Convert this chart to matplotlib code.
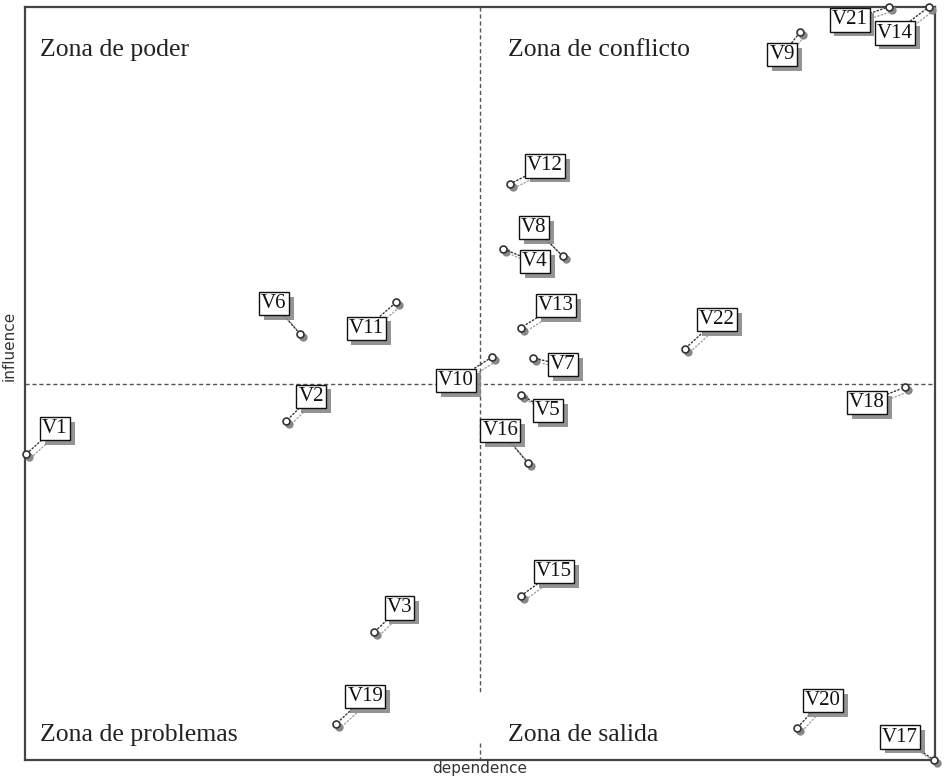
import matplotlib.pyplot as plt
import matplotlib.patheffects as pe
from matplotlib.transforms import offset_copy

# variables (MICMAC style map), axes 0..1
names = ['V1', 'V2', 'V3', 'V4', 'V5', 'V6', 'V7', 'V8', 'V9', 'V10', 'V11',
         'V12', 'V13', 'V14', 'V15', 'V16', 'V17', 'V18', 'V19', 'V20', 'V21', 'V22']
dependence = [0.001, 0.287, 0.384, 0.525, 0.545, 0.302, 0.558, 0.591, 0.852, 0.513, 0.408,
              0.533, 0.545, 0.993, 0.545, 0.553, 0.999, 0.967, 0.342, 0.848, 0.949, 0.725]
influence = [0.406, 0.450, 0.170, 0.679, 0.485, 0.566, 0.534, 0.669, 0.967, 0.535, 0.608,
             0.765, 0.574, 1.000, 0.218, 0.394, 0.000, 0.495, 0.048, 0.042, 1.000, 0.546]

zones = ['Zona de poder', 'Zona de conflicto', 'Zona de problemas', 'Zona de salida']

# label box offsets from the point (pixels, y up)
label_offsets = [(29, 26), (25, 25), (25, 24), (32, -13), (27, -16), (-26, 30), (30, -7),
                 (-29, 29), (-18, -23), (-36, -23), (-30, -26), (35, 18), (35, 22),
                 (-34, -26), (33, 24), (-28, 33), (-34, 23), (-38, -15), (29, 27),
                 (26, 28), (-39, -13), (32, 29)]

fig = plt.figure(figsize=(9.44, 7.83), dpi=100)
ax = fig.add_axes([25 / 944, 23 / 783, 910 / 944, 753 / 783])
ax.set_xlim(0, 1)
ax.set_ylim(0, 1)
ax.set_xticks([])
ax.set_yticks([])
for s in ax.spines.values():
    s.set_color('#444444')
    s.set_linewidth(1.6)

# quadrant lines
ax.axhline(0.5, color='#555555', lw=1, ls=(0, (3, 2)), zorder=1)
ax.plot([0.5, 0.5], [1, 0.089], color='#555555', lw=1, ls=(0, (3, 2)), zorder=1)
ax.plot([0.5, 0.5], [0.023, 0], color='#555555', lw=1, ls=(0, (3, 2)), zorder=1)

serif = 'Liberation Serif'
zone_pos = [(0.0165, 0.943), (0.531, 0.943), (0.0165, 0.033), (0.531, 0.033)]
for z, (zx, zy) in zip(zones, zone_pos):
    ax.text(zx, zy, z, transform=ax.transAxes, family=serif, fontsize=18.5,
            color='#222222', va='center', ha='left')

shadow = offset_copy(ax.transData, fig=fig, x=3, y=-3, units='dots')
shade = [pe.SimplePatchShadow(offset=(3.5, -3.5), shadow_rgbFace='#888888', alpha=0.9), pe.Normal()]
line_shade = [pe.SimpleLineShadow(offset=(3, -3), shadow_color='#999999', alpha=0.9), pe.Normal()]

for i, name in enumerate(names):
    x, y = dependence[i], influence[i]
    dx, dy = label_offsets[i]
    ax.plot(x, y, 'o', ms=5, mfc='#888888', mec='#888888', transform=shadow,
            zorder=3, clip_on=False)
    ann = ax.annotate(name, (x, y), xytext=(dx, dy), textcoords='offset pixels',
                      family=serif, fontsize=15, color='#111111', ha='center', va='center',
                      bbox=dict(boxstyle='square,pad=0.1', fc='white', ec='#111111', lw=1),
                      arrowprops=dict(arrowstyle='-', color='#333333', lw=1, ls=':',
                                      shrinkA=0, shrinkB=3),
                      zorder=4, annotation_clip=False)
    ann.get_bbox_patch().set_path_effects(shade)
    ann.arrow_patch.set_path_effects(line_shade)
    ax.plot(x, y, 'o', ms=5, mfc='white', mec='#333333', mew=1.2, zorder=5, clip_on=False)

ax.set_xlabel('dependence', fontsize=11, color='#333333', labelpad=1)
ax.set_ylabel('influence', fontsize=11, color='#333333', labelpad=1)
ax.yaxis.set_label_coords(-0.009, 0.55)

fig.savefig('out.png', dpi=100)
